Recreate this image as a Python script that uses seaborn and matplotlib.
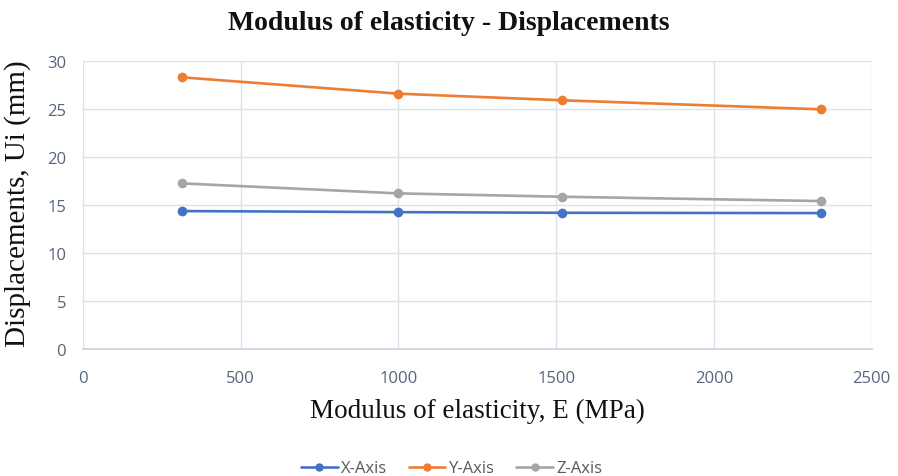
import numpy as np
import pandas as pd
import matplotlib
matplotlib.use("Agg")
import matplotlib.pyplot as plt
import seaborn as sns

# Modulus of elasticity (MPa) and resulting displacements (mm) per axis
modulus = [315, 1000, 1520, 2340]
x_axis = [14.41, 14.30, 14.23, 14.20]
y_axis = [28.33, 26.63, 25.94, 25.00]
z_axis = [17.29, 16.25, 15.90, 15.45]
series_names = ["X-Axis", "Y-Axis", "Z-Axis"]
colors = ["#4472C4", "#ED7D31", "#A5A5A5"]
x_ticks = [0, 500, 1000, 1500, 2000, 2500]
y_ticks = [0, 5, 10, 15, 20, 25, 30]

df = pd.DataFrame({
    "E": modulus * 3,
    "U": x_axis + y_axis + z_axis,
    "Series": np.repeat(series_names, len(modulus)),
})

sns.set_theme(style="white")
plt.rcParams["font.family"] = ["Open Sans", "DejaVu Sans"]

fig = plt.figure(figsize=(8.98, 4.77), dpi=100)
ax = fig.add_axes([0.0921, 0.2652, 0.8786, 0.6042])

sns.lineplot(data=df, x="E", y="U", hue="Series", palette=colors,
             marker="o", markersize=7, markeredgewidth=0, linewidth=1.9,
             ax=ax, legend=False, zorder=3)

grid_c = "#DCE2EC"
ax.set_xlim(0, 2500)
ax.set_ylim(0, 30)
ax.set_xticks(x_ticks)
ax.set_yticks(y_ticks)
ax.grid(True, color=grid_c, linewidth=1.0)
for s in ["top", "right", "left"]:
    ax.spines[s].set_visible(False)
ax.spines["bottom"].set_color("#C9D2E1")
ax.spines["bottom"].set_linewidth(1.2)
tick_c = "#56647D"
ax.tick_params(axis="x", colors=tick_c, labelsize=12, length=0, pad=15)
ax.tick_params(axis="y", colors=tick_c, labelsize=12, length=0, pad=12)

serif = ["Liberation Serif", "DejaVu Serif"]
ax.set_xlabel("Modulus of elasticity, E (MPa)", family=serif, fontsize=19.5,
              color="#111111", labelpad=8)
ax.set_ylabel("Displacements, Ui (mm)", family=serif, fontsize=21,
              color="#111111")
ax.yaxis.set_label_coords(-0.066, 0.51)
fig.text(0.5, 0.951, "Modulus of elasticity - Displacements", family=serif,
         fontsize=20, fontweight="bold", ha="center", va="center", color="#111111")

handles = [plt.Line2D([], [], color=c, lw=1.9, marker="o", markersize=6,
                      markeredgewidth=0) for c in colors]
leg = fig.legend(handles, series_names, loc="center", ncol=3,
                 bbox_to_anchor=(0.503, 0.016), frameon=False, fontsize=12,
                 handlelength=2.2, columnspacing=1.3, handletextpad=0.2)
for t in leg.get_texts():
    t.set_color("#595959")

fig.savefig("out.png", dpi=100)
